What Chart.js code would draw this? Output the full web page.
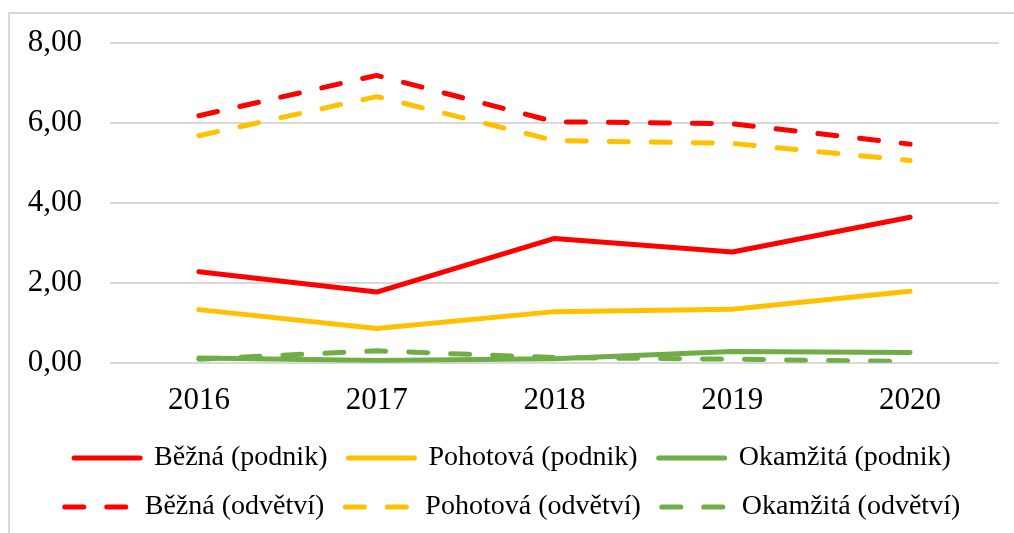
<!DOCTYPE html>
<html>
<head>
<meta charset="utf-8">
<script src="https://cdn.jsdelivr.net/npm/chart.js@4"></script>
<style>
  html, body { margin: 0; padding: 0; background: #fff; }
  #wrap { position: relative; width: 1014px; height: 533px; }
  #frame { position: absolute; left: 8px; top: 12px; width: 1100px; height: 600px;
           border-left: 2px solid #d9d9d9; border-top: 2px solid #d9d9d9; }
  canvas { position: absolute; left: 0; top: 0; }
</style>
</head>
<body>
<div id="wrap">
  <div id="frame"></div>
  <canvas id="lineChart" width="1014" height="533"></canvas>
</div>
<script>
const years = ["2016", "2017", "2018", "2019", "2020"];

const bezna_podnik = [2.28, 1.77, 3.11, 2.77, 3.64];
const pohotova_podnik = [1.33, 0.86, 1.28, 1.34, 1.79];
const okamzita_podnik = [0.12, 0.06, 0.10, 0.28, 0.26];
const bezna_odvetvi = [6.18, 7.19, 6.03, 5.98, 5.47];
const pohotova_odvetvi = [5.68, 6.66, 5.56, 5.49, 5.06];
const okamzita_odvetvi = [0.09, 0.30, 0.13, 0.09, 0.03];

const yTicks = [0, 2, 4, 6, 8];

const lineW = 5;
const dash = [19, 23];

function series(label, data, color, dashed) {
  return {
    label: label,
    data: data,
    borderColor: color,
    backgroundColor: color,
    borderWidth: lineW,
    borderDash: dashed ? dash : [],
    borderCapStyle: "round",
    borderJoinStyle: "round",
    pointRadius: 0,
    pointHoverRadius: 0,
    tension: 0,
    fill: false,
  };
}

document.addEventListener("DOMContentLoaded", function () {
  const ctx = document.getElementById("lineChart").getContext("2d");
  new Chart(ctx, {
    type: "line",
    data: {
      labels: years,
      datasets: [
        series("Běžná (podnik)", bezna_podnik, "#ff0000", false),
        series("Pohotová (podnik)", pohotova_podnik, "#ffc000", false),
        series("Okamžitá (podnik)", okamzita_podnik, "#70ad47", false),
        series("Běžná (odvětví)", bezna_odvetvi, "#ff0000", true),
        series("Pohotová (odvětví)", pohotova_odvetvi, "#ffc000", true),
        series("Okamžitá (odvětví)", okamzita_odvetvi, "#70ad47", true),
      ],
    },
    options: {
      responsive: false,
      animation: false,
      layout: {
        autoPadding: false,
        padding: { left: 26, right: 15, top: 43, bottom: 2 },
      },
      plugins: {
        tooltip: { enabled: false },
        legend: {
          position: "bottom",
          onClick: function () {}, // no toggling
          labels: {
            usePointStyle: true,
            pointStyle: "line",
            pointStyleWidth: 66,
            padding: 21,
            color: "#000",
            font: { family: "Liberation Serif", size: 28 },
            generateLabels: function (chart) {
              const items = Chart.defaults.plugins.legend.labels.generateLabels(chart);
              items.forEach((item) => {
                const ds = chart.data.datasets[item.datasetIndex];
                item.lineDash = ds.borderDash;
                item.lineWidth = lineW;
                item.lineCap = "round";
                item.strokeStyle = ds.borderColor;
                item.pointStyle = "line";
              });
              return items;
            },
          },
        },
      },
      scales: {
        x: {
          offset: true,
          grid: { display: false, drawTicks: false },
          border: { display: false },
          afterFit: function (scale) {
            scale.height -= 15;
          },
          ticks: {
            color: "#000",
            padding: 19,
            font: { family: "Liberation Serif", size: 31 },
          },
        },
        y: {
          min: 0,
          max: 8,
          afterBuildTicks: function (scale) {
            scale.ticks = yTicks.map((v) => ({ value: v }));
          },
          afterFit: function (scale) {
            scale.width = 84;
            scale.paddingTop = 0;
            scale.paddingBottom = 0;
          },
          grid: { color: "#d9d9d9", lineWidth: 2, drawTicks: false },
          border: { display: false },
          ticks: {
            color: "#000",
            padding: 28,
            font: { family: "Liberation Serif", size: 31 },
            callback: function (value) {
              return value.toFixed(2).replace(".", ",");
            },
          },
        },
      },
    },
  });
});
</script>
</body>
</html>
